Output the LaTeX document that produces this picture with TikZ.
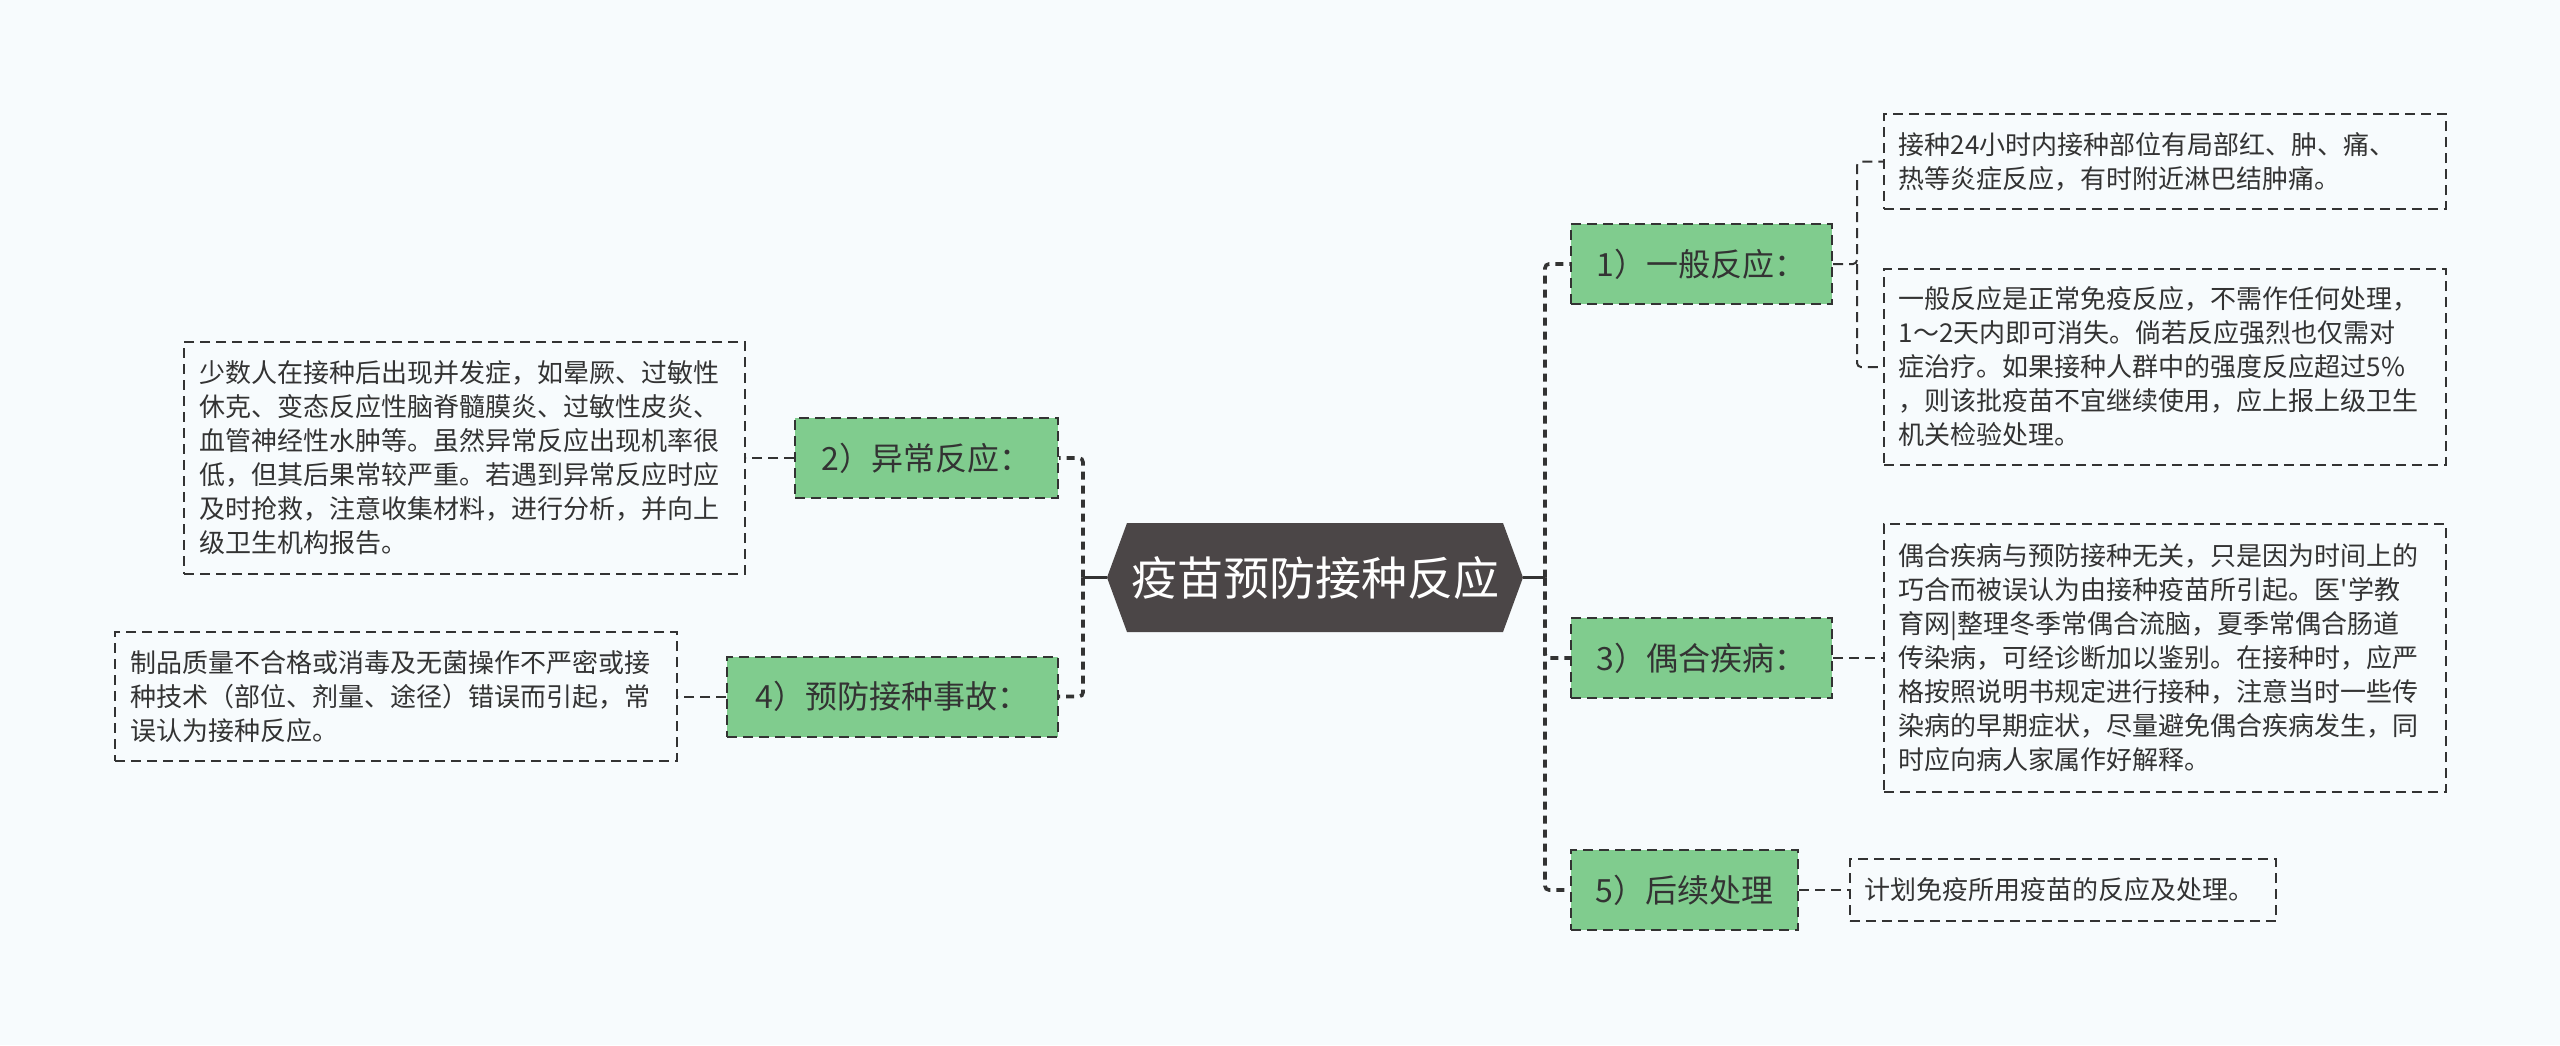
\documentclass[tikz,border=0pt]{standalone}
\usepackage{fontspec}
\setmainfont{Noto Sans CJK SC}
\newfontfamily\plaincjk{Noto Sans CJK SC}

\definecolor{bgcol}{RGB}{247,251,253}
\definecolor{rootcol}{RGB}{75,70,71}
\definecolor{leafgreen}{RGB}{128,204,142}
\definecolor{linecol}{RGB}{51,51,51}

\tikzset{
	rootbox/.style={minimum width=208pt, minimum height=54.5pt, text=white, font=\fontsize{23}{27}\selectfont,
		path picture={\fill[rootcol] (path picture bounding box.west) -- ([xshift=10pt]path picture bounding box.north west) -- ([xshift=-10pt]path picture bounding box.north east) -- (path picture bounding box.east) -- ([xshift=-10pt]path picture bounding box.south east) -- ([xshift=10pt]path picture bounding box.south west) -- cycle;}},
	branch/.style={draw=linecol, dash pattern=on 5pt off 3pt, line width=1pt, fill=leafgreen, minimum height=40pt, text=linecol, font=\fontsize{16}{19}\selectfont},
	note/.style={draw=linecol, dash pattern=on 5pt off 3pt, line width=0.8pt, align=left, inner xsep=7.5pt, inner ysep=6pt, text=linecol, font=\fontsize{13}{17}\selectfont},
	stem/.style={linecol, line width=1.8pt},
	trunk/.style={linecol, line width=1.8pt, dash pattern=on 4pt off 3pt, rounded corners=2pt},
	link/.style={linecol, line width=1pt, dash pattern=on 5pt off 3pt, rounded corners=2pt},
}

\begin{document}
\begin{tikzpicture}[x=0.5pt, y=-0.5pt]
	\fill[bgcol] (0, 0) rectangle (2560, 1045);
	\useasboundingbox (0, 0) rectangle (2560, 1045);
	% centre
	\node[rootbox] (root) at (1315, 577.5){疫苗预防接种反应};
	\coordinate (rtrunk) at (1545, 577.5);
	\coordinate (ltrunk) at (1083, 577.5);
	% branches
	\node[branch, minimum width=130.5pt] (b1) at (1701.5, 264){1）一般反应：};
	\node[branch, minimum width=130.5pt] (b3) at (1701.5, 658){3）偶合疾病：};
	\node[branch, minimum width=113.5pt] (b5) at (1684.5, 890){5）后续处理};
	\node[branch, minimum width=131.5pt] (b2) at (926.5, 458){2）异常反应：};
	\node[branch, minimum width=165.5pt] (b4) at (892.5, 696.5){4）预防接种事故：};
	% notes
	\node[note, anchor=west, text width=266pt, minimum height=47.5pt] (n1a) at (1883, 161.5){接种24小时内接种部位有局部红、肿、痛、\\热等炎症反应，有时附近淋巴结肿痛。};
	\node[note, anchor=west, text width=266pt, minimum height=98pt] (n1b) at (1883, 367){一般反应是正常免疫反应，不需作任何处理，\\1～2天内即可消失。倘若反应强烈也仅需对\\症治疗。如果接种人群中的强度反应超过5\%\\，则该批疫苗不宜继续使用，应上报上级卫生\\机关检验处理。};
	\node[note, anchor=west, text width=266pt, minimum height=134pt] (n3) at (1883, 658){偶合疾病与预防接种无关，只是因为时间上的\\巧合而被误认为由接种疫苗所引起。医{\plaincjk '}学教\\育网|整理冬季常偶合流脑，夏季常偶合肠道\\传染病，可经诊断加以鉴别。在接种时，应严\\格按照说明书规定进行接种，注意当时一些传\\染病的早期症状，尽量避免偶合疾病发生，同\\时应向病人家属作好解释。};
	\node[note, anchor=west, text width=198pt, minimum height=31pt] (n5) at (1849, 890){计划免疫所用疫苗的反应及处理。};
	\node[note, anchor=east, text width=265.5pt, minimum height=116pt] (n2) at (746, 458){少数人在接种后出现并发症，如晕厥、过敏性\\休克、变态反应性脑脊髓膜炎、过敏性皮炎、\\血管神经性水肿等。虽然异常反应出现机率很\\低，但其后果常较严重。若遇到异常反应时应\\及时抢救，注意收集材料，进行分析，并向上\\级卫生机构报告。};
	\node[note, anchor=east, text width=266pt, minimum height=64.5pt] (n4) at (678, 696.5){制品质量不合格或消毒及无菌操作不严密或接\\种技术（部位、剂量、途径）错误而引起，常\\误认为接种反应。};
	% connectors
	\draw[stem] (root.east) -- (rtrunk);
	\draw[stem] (root.west) -- (ltrunk);
	\draw[trunk] (rtrunk) |- (b1.west);
	\draw[trunk] (rtrunk) |- (b3.west);
	\draw[trunk] (rtrunk) |- (b5.west);
	\draw[trunk] (ltrunk) |- (b2.east);
	\draw[trunk] (ltrunk) |- (b4.east);
	\coordinate (s1) at (1857, 264);
	\draw[link] (b1.east) -- (s1) |- (n1a.west);
	\draw[link] (s1) |- (n1b.west);
	\draw[link] (b3.east) -- (n3.west);
	\draw[link] (b5.east) -- (n5.west);
	\draw[link] (b2.west) -- (n2.east);
	\draw[link] (b4.west) -- (n4.east);
\end{tikzpicture}
\end{document}
